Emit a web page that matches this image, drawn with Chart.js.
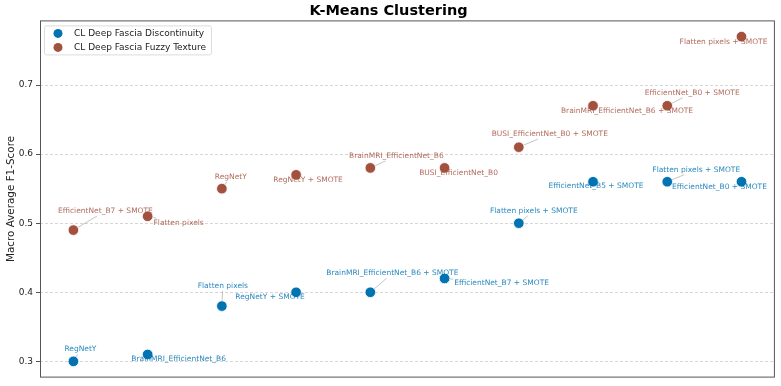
<!DOCTYPE html>
<html>
<head>
<meta charset="utf-8">
<script src="https://cdn.jsdelivr.net/npm/chart.js@4.4.1/dist/chart.umd.min.js"></script>
<style>
  html, body { margin: 0; padding: 0; background: #fff; }
  #wrap { width: 781px; height: 386px; }
</style>
</head>
<body>
<div id="wrap"><canvas id="mycanvas"></canvas></div>
<script>
// data
var seriesNames = ['CL Deep Fascia Discontinuity', 'CL Deep Fascia Fuzzy Texture'];
var discScores = [0.30, 0.31, 0.38, 0.40, 0.40, 0.42, 0.50, 0.56, 0.56, 0.56];
var discLabels = ['RegNetY', 'BrainMRI_EfficientNet_B6', 'Flatten pixels', 'RegNetY + SMOTE',
  'BrainMRI_EfficientNet_B6 + SMOTE', 'EfficientNet_B7 + SMOTE', 'Flatten pixels + SMOTE',
  'EfficientNet_B5 + SMOTE', 'Flatten pixels + SMOTE', 'EfficientNet_B0 + SMOTE'];
var fuzzyScores = [0.49, 0.51, 0.55, 0.57, 0.58, 0.58, 0.61, 0.67, 0.67, 0.77];
var fuzzyLabels = ['EfficientNet_B7 + SMOTE', 'Flatten pixels', 'RegNetY', 'RegNetY + SMOTE',
  'BrainMRI_EfficientNet_B6', 'BUSI_EfficientNet_B0', 'BUSI_EfficientNet_B0 + SMOTE',
  'BrainMRI_EfficientNet_B6 + SMOTE', 'EfficientNet_B0 + SMOTE', 'Flatten pixels + SMOTE'];
var yTicks = [0.3, 0.4, 0.5, 0.6, 0.7];

// where the annotation text sits relative to its dot (px)
var discOffsets = [[7,-12],[31,5],[1,-20],[-26,5],[22,-19],[57,5],[15,-12],[3,4],[29,-12],[-22,5]];
var fuzzyOffsets = [[32,-19],[31,7],[9,-12],[12,5],[26,-12],[14,5],[31,-13],[34,5],[25,-13],[-18,5]];

var blue = '#0173b2';
var brown = '#a3513f';
var font = '"DejaVu Sans", sans-serif';

function toPoints(vals) {
  var pts = [];
  for (var i = 0; i < vals.length; i++) pts.push({x: i, y: vals[i]});
  return pts;
}

var extras = {
  id: 'extras',
  beforeDatasetsDraw: function(chart) {
    var ctx = chart.ctx;
    var sets = [[0, discLabels, discOffsets], [1, fuzzyLabels, fuzzyOffsets]];
    ctx.save();
    ctx.font = '7.5px ' + font;
    ctx.strokeStyle = 'rgba(130,130,130,0.6)';
    ctx.lineWidth = 0.8;
    sets.forEach(function(s) {
      var meta = chart.getDatasetMeta(s[0]);
      meta.data.forEach(function(el, i) {
        var dx = s[2][i][0], dy = s[2][i][1];
        var w = ctx.measureText(s[1][i]).width / 2 + 1, h = 5;
        // stop the leader where it meets the text box
        var t = 1;
        if (Math.abs(dx) > 0) t = Math.min(t, Math.max(0, (Math.abs(dx) - w) / Math.abs(dx)));
        var ty = Math.abs(dy) > 0 ? Math.max(0, (Math.abs(dy) - h) / Math.abs(dy)) : 0;
        t = Math.max(t < 1 ? t : 0, ty);
        if (Math.abs(dx) <= w) t = ty;
        if (Math.abs(dy) <= h) t = Math.abs(dx) > w ? (Math.abs(dx) - w) / Math.abs(dx) : 0;
        var ex = el.x + dx * t, ey = el.y + dy * t;
        var d = Math.hypot(ex - el.x, ey - el.y);
        if (d > 6) {
          ctx.beginPath();
          ctx.moveTo(el.x + (ex - el.x) * 5 / d, el.y + (ey - el.y) * 5 / d);
          ctx.lineTo(ex, ey);
          ctx.stroke();
        }
      });
    });
    ctx.restore();
  },
  afterDatasetsDraw: function(chart) {
    var ctx = chart.ctx;
    var a = chart.chartArea;
    ctx.save();
    // labels
    ctx.font = '7.5px ' + font;
    ctx.textAlign = 'center';
    ctx.textBaseline = 'middle';
    var sets = [[0, discLabels, discOffsets, 'rgba(1,115,178,0.85)'], [1, fuzzyLabels, fuzzyOffsets, 'rgba(163,81,63,0.85)']];
    sets.forEach(function(s) {
      var meta = chart.getDatasetMeta(s[0]);
      ctx.fillStyle = s[3];
      meta.data.forEach(function(el, i) {
        ctx.fillText(s[1][i], el.x + s[2][i][0], el.y + s[2][i][1]);
      });
    });
    // frame
    ctx.strokeStyle = '#555';
    ctx.lineWidth = 1;
    ctx.strokeRect(a.left + 0.5, a.top + 0.5, a.right - a.left - 1, a.bottom - a.top - 1);
    // legend
    var lx = a.left + 4, ly = a.top + 5;
    ctx.fillStyle = 'rgba(255,255,255,0.8)';
    ctx.strokeStyle = '#dcdcdc';
    ctx.beginPath();
    ctx.roundRect(lx + 0.5, ly + 0.5, 167, 29, 2);
    ctx.fill();
    ctx.stroke();
    ctx.font = '9px ' + font;
    ctx.textAlign = 'left';
    [blue, brown].forEach(function(c, i) {
      ctx.fillStyle = c;
      ctx.beginPath();
      ctx.arc(lx + 14, ly + 8 + i * 14, 4.5, 0, Math.PI * 2);
      ctx.fill();
      ctx.fillStyle = '#222';
      ctx.fillText(seriesNames[i], lx + 30, ly + 8.5 + i * 14);
    });
    ctx.restore();
  }
};

var ctx = document.getElementById('mycanvas');

var scatter = new Chart(ctx, {
  type: 'scatter',
  data: {
    datasets: [
      {
        label: seriesNames[0],
        data: toPoints(discScores),
        backgroundColor: blue,
        borderColor: '#ffffff',
        borderWidth: 0.8,
        pointRadius: 5.3
      },
      {
        label: seriesNames[1],
        data: toPoints(fuzzyScores),
        backgroundColor: brown,
        borderColor: '#ffffff',
        borderWidth: 0.8,
        pointRadius: 5.3
      }
    ]
  },
  plugins: [extras],
  options: {
    responsive: true,
    maintainAspectRatio: false,
    animation: false,
    layout: { padding: { left: 0, right: 4, top: 0, bottom: 7 } },
    plugins: {
      legend: { display: false },
      tooltip: { enabled: false },
      title: {
        display: true,
        text: 'K-Means Clustering',
        color: '#000',
        font: { family: font, size: 14.5, weight: 'bold' },
        padding: { top: 2.5, bottom: 0.5 }
      }
    },
    scales: {
      x: {
        type: 'linear',
        min: -0.45,
        max: 9.45,
        ticks: { display: false },
        grid: { display: false },
        border: { display: false },
        afterFit: function(s) { s.height = 0; }
      },
      y: {
        min: 0.2765,
        max: 0.7935,
        afterBuildTicks: function(s) {
          s.ticks = yTicks.map(function(v) { return {value: v}; });
        },
        ticks: {
          color: '#222',
          font: { family: font, size: 9 },
          padding: 3,
          callback: function(v) { return v.toFixed(1); }
        },
        grid: {
          color: 'rgba(0,0,0,0.16)',
          tickColor: '#555',
          tickLength: 4,
          tickBorderDash: [],
          borderDash: [3, 2]
        },
        border: { display: false, dash: [3, 2] },
        title: {
          display: true,
          text: 'Macro Average F1-Score',
          color: '#222',
          font: { family: font, size: 10.4 },
          padding: { top: 5, bottom: 0 }
        },
        afterFit: function(s) { s.width = 40; }
      }
    }
  }
});
</script>
</body>
</html>
